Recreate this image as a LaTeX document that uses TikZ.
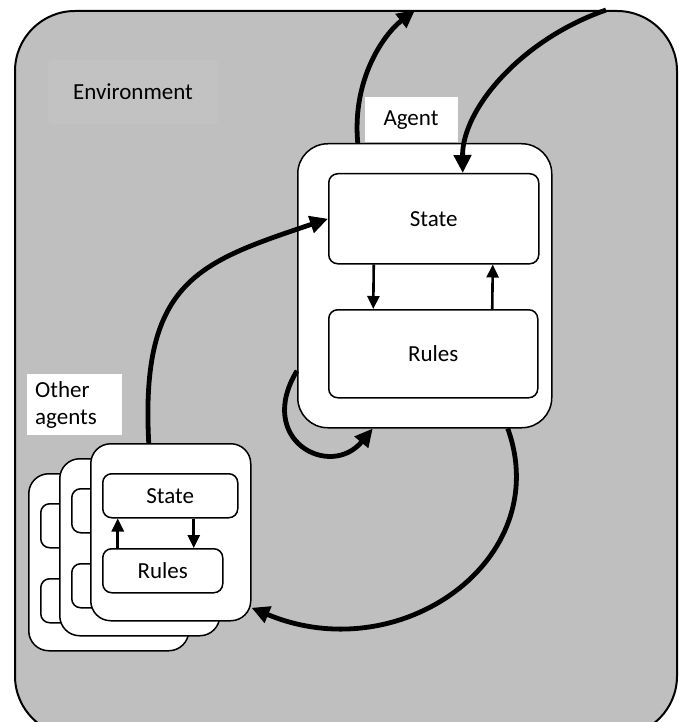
\documentclass[tikz,border=0pt]{standalone}
\usepackage{fontspec}
\setmainfont{Carlito}
\usetikzlibrary{arrows.meta,positioning}
\definecolor{envgray}{RGB}{191,191,191}
\definecolor{envlight}{RGB}{194,194,194}
\begin{document}
\begin{tikzpicture}[x=1pt,y=-1pt,
    font=\fontsize{23}{27}\selectfont,
    envbox/.style={draw, line width=2pt, fill=envgray, rounded corners=60pt, inner sep=0pt},
    agentbox/.style={draw, line width=1.5pt, fill=white, rounded corners=30pt, inner sep=0pt},
    cardbox/.style={draw, line width=1.5pt, fill=white, rounded corners=20pt, inner sep=0pt},
    partbox/.style={draw, line width=1.5pt, fill=white, rounded corners=9pt, inner sep=0pt},
    tag/.style={fill=white, inner sep=0pt},
    flow/.style={line width=4.8pt, -{Triangle[length=18pt,width=17pt]}},
    link/.style={line width=2.6pt, -{Triangle[length=13pt,width=12pt]}}]
    \useasboundingbox (0,0) rectangle (678,722);
    \clip (0,0) rectangle (678,722);
    % environment
    \node[envbox, anchor=north west, minimum width=662pt, minimum height=725pt] (env) at (14,10) {};
    \node[fill=envlight, rounded corners=4pt, minimum width=170pt, minimum height=65pt] (envtext) at (133,92) {Environment};
    % agent
    \node[tag, minimum width=93pt, minimum height=45pt] (agenttag) at (411,120) {Agent};
    \node[agentbox, anchor=north west, minimum width=254pt, minimum height=284pt] (agent) at (297,143) {};
    \node[partbox, anchor=north west, minimum width=210pt, minimum height=90pt] (state) at (328,173) {State};
    \node[partbox, anchor=north west, minimum width=209pt, minimum height=88pt] (rules) at (328,309) {Rules};
    \draw[link] ([xshift=-60pt]state.south) -- ([xshift=-60pt]rules.north);
    \draw[link] ([xshift=59pt]rules.north) -- ([xshift=59pt]state.south);
    % other agents
    \node[tag, anchor=north west, minimum width=95pt, minimum height=61pt, text width=79pt, align=left] (othertag) at (27,374) {Other\\agents};
    \foreach \i in {2,1} {
        \node[cardbox, anchor=north west, minimum width=160pt, minimum height=177pt] (card\i) at (90-31*\i,443+15*\i) {};
        \node[partbox, anchor=north west, minimum width=135pt, minimum height=44pt] (state\i) at ([shift={(12pt,-30pt)}]card\i.north west) {};
        \node[partbox, anchor=north west, minimum width=120pt, minimum height=44pt] (rules\i) at ([shift={(12pt,-105pt)}]card\i.north west) {};
    }
    \node[cardbox, anchor=north west, minimum width=160pt, minimum height=177pt] (card0) at (90,443) {};
    \node[partbox, anchor=north west, minimum width=135pt, minimum height=44pt] (state0) at ([shift={(12pt,-30pt)}]card0.north west) {State};
    \node[partbox, anchor=north west, minimum width=120pt, minimum height=44pt] (rules0) at ([shift={(12pt,-105pt)}]card0.north west) {Rules};
    \draw[link] ([xshift=-45pt]rules0.north) -- ([xshift=-45pt]rules0.north |- state0.south);
    \draw[link] ([xshift=23.5pt]state0.south) -- ([xshift=23.5pt]state0.south |- rules0.north);
    % interactions
    \coordinate (out) at (415,10);
    \coordinate (in) at (606,10);
    \draw[flow] ([xshift=-67pt]agent.north) .. controls (352,80) and (383,35) .. (out);
    \draw[flow] (in) .. controls (520,40) and (462,110) .. ([xshift=29pt]state.north);
    \draw[flow] ([xshift=-22pt]card0.north) .. controls (140,280) and (200,262) .. (state.west);
    \draw[flow] ([yshift=-85pt]agent.west) .. controls (255,440) and (330,480) .. ([xshift=-52pt]agent.south);
    \draw[flow] ([xshift=83pt]agent.south) .. controls (555,560) and (400,670) .. ([yshift=-75.5pt]card0.east);
\end{tikzpicture}
\end{document}
